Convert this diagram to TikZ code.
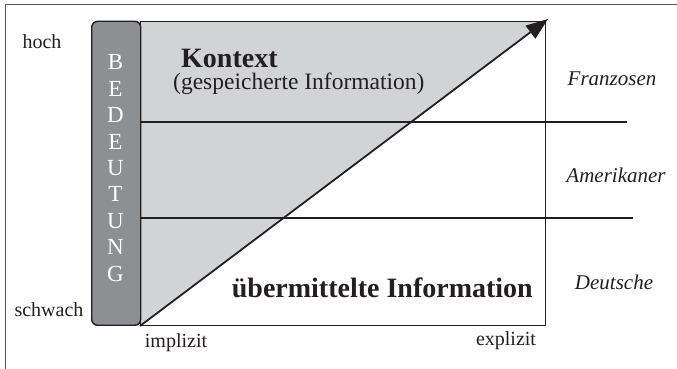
\documentclass[tikz,border=0pt]{standalone}
\usepackage{fontspec}
\setmainfont{Liberation Serif}
\usetikzlibrary{arrows.meta}
\definecolor{ink}{HTML}{231F20}
\definecolor{darkbar}{HTML}{8E8F93}
\definecolor{lightfill}{HTML}{D2D3D5}
\definecolor{framegray}{HTML}{555555}
\tikzset{
  frameline/.style={draw=framegray, line width=1pt},
  mainbox/.style={draw=ink, line width=1.4pt, inner sep=0pt, minimum width=405pt, minimum height=304pt, anchor=south west},
  barbox/.style={draw=ink, fill=darkbar, line width=1.4pt, rounded corners=6pt, inner sep=0pt, minimum width=49pt, minimum height=304pt, anchor=south west},
  hline/.style={draw=ink, line width=1.3pt},
  arrowline/.style={draw=ink, line width=1.8pt, -{Triangle[length=22pt,width=16pt]}},
  smalllabel/.style={inner sep=0pt, text=ink, font=\fontsize{20}{23}\selectfont},
  nation/.style={inner sep=0pt, text=ink, font=\fontsize{21}{24}\selectfont\itshape},
  biglabel/.style={inner sep=0pt, text=ink, font=\fontsize{28}{32}\selectfont\bfseries},
  midlabel/.style={inner sep=0pt, text=ink, font=\fontsize{23.5}{27}\selectfont},
  barletters/.style={inner sep=0pt, text=white, align=center, font=\fontsize{23}{26.4}\selectfont}
}
\begin{document}
\begin{tikzpicture}[x=1pt,y=1pt]
\useasboundingbox (0,0) rectangle (677,369);
\draw[frameline] (5,0) -- (5,364.5) -- (677,364.5);
\coordinate (sw) at (140,43);
\coordinate (nw) at (140,347);
\coordinate (ne) at (545,347);
\fill[lightfill] (sw) -- (nw) -- (ne) -- cycle;
\node[mainbox] (main) at (sw) {};
\node[barbox] (bar) at (91,43) {};
\node[barletters] (bartext) at (115.5,201) {B\\E\\D\\E\\U\\T\\U\\N\\G};
\coordinate (l1) at (627,247);
\coordinate (l2) at (633,151);
\draw[hline] (main.west |- l1) -- (l1);
\draw[hline] (main.west |- l2) -- (l2);
\coordinate (tip) at (548,350);
\draw[arrowline] (main.south west) -- (tip);
\node[smalllabel] (hoch) at (42,327) {hoch};
\node[smalllabel] (schwach) at (49,59) {schwach};
\node[smalllabel] (impl) at (176,26) {implizit};
\node[smalllabel] (expl) at (506,28) {explizit};
\node[biglabel, anchor=west] (kontext) at (181,311) {Kontext};
\node[midlabel, anchor=west] (gesp) at (173,285) {(gespeicherte Information)};
\node[biglabel, anchor=east] (uebermittelt) at (533,81) {übermittelte Information};
\node[nation] (fr) at (612,290) {Franzosen};
\node[nation] (am) at (616,194) {Amerikaner};
\node[nation] (de) at (614,87) {Deutsche};
\end{tikzpicture}
\end{document}
